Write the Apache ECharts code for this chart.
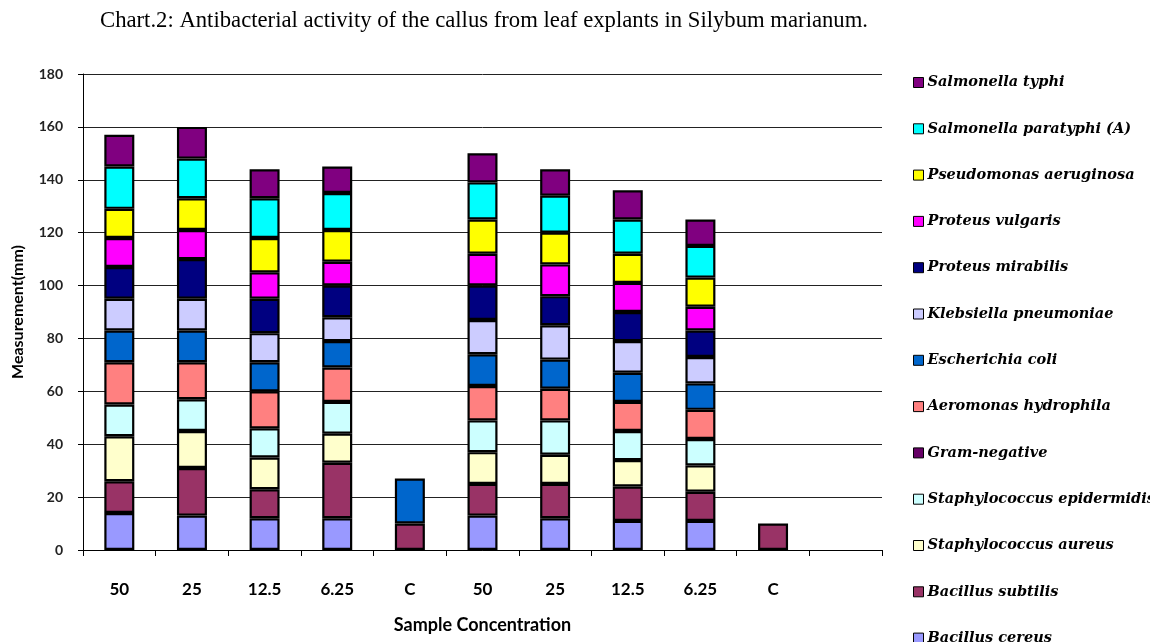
<!DOCTYPE html>
<html>
<head>
<meta charset="utf-8">
<script src="https://cdn.jsdelivr.net/npm/echarts@6/dist/echarts.min.js"></script>
<style>
  html, body { margin: 0; padding: 0; background: #fff; overflow: hidden; }
  #chart { width: 1150px; height: 642px; }
</style>
</head>
<body>
<div id="chart"></div>
<script>
// Sample concentrations (two callus sets plus controls; last slot left empty)
const categories = ['50', '25', '12.5', '6.25', 'C', '50', '25', '12.5', '6.25', 'C', ''];
const yTicks = { min: 0, max: 180, interval: 20 };

// Inhibition zones (mm) per organism, stacked bottom to top
const bacillusCereus       = [14, 13, 12, 12, null, 13, 12, 11, 11, null, null];
const bacillusSubtilis     = [12, 18, 11, 21, 10,   12, 13, 13, 11, 10,   null];
const staphAureus          = [17, 14, 12, 11, null, 12, 11, 10, 10, null, null];
const staphEpidermidis     = [12, 12, 11, 12, null, 12, 13, 11, 10, null, null];
const gramNegative         = [null, null, null, null, null, null, null, null, null, null, null];
const aeromonasHydrophila  = [16, 14, 14, 13, null, 13, 12, 11, 11, null, null];
const escherichiaColi      = [12, 12, 11, 10, 17,   12, 11, 11, 10, null, null];
const klebsiellaPneumoniae = [12, 12, 11, 9,  null, 13, 13, 12, 10, null, null];
const proteusMirabilis     = [12, 15, 13, 12, null, 13, 11, 11, 10, null, null];
const proteusVulgaris      = [11, 11, 10, 9,  null, 12, 12, 11, 9,  null, null];
const pseudomonas          = [11, 12, 13, 12, null, 13, 12, 11, 11, null, null];
const salmonellaParatyphi  = [16, 15, 15, 14, null, 14, 14, 13, 12, null, null];
const salmonellaTyphi      = [12, 12, 11, 10, null, 11, 10, 11, 10, null, null];

const seriesDefs = [
  { name: 'Bacillus cereus',            data: bacillusCereus,       color: '#9999FF' },
  { name: 'Bacillus subtilis',          data: bacillusSubtilis,     color: '#993366' },
  { name: 'Staphylococcus aureus',      data: staphAureus,          color: '#FFFFCC' },
  { name: 'Staphylococcus epidermidis', data: staphEpidermidis,     color: '#CCFFFF' },
  { name: 'Gram-negative',              data: gramNegative,         color: '#660066' },
  { name: 'Aeromonas hydrophila',       data: aeromonasHydrophila,  color: '#FF8080' },
  { name: 'Escherichia coli',           data: escherichiaColi,      color: '#0066CC' },
  { name: 'Klebsiella pneumoniae',      data: klebsiellaPneumoniae, color: '#CCCCFF' },
  { name: 'Proteus mirabilis',          data: proteusMirabilis,     color: '#000080' },
  { name: 'Proteus vulgaris',           data: proteusVulgaris,      color: '#FF00FF' },
  { name: 'Pseudomonas aeruginosa',     data: pseudomonas,          color: '#FFFF00' },
  { name: 'Salmonella paratyphi (A)',   data: salmonellaParatyphi,  color: '#00FFFF' },
  { name: 'Salmonella typhi',           data: salmonellaTyphi,      color: '#800080' }
];

const axisFont = 'Lato, "Open Sans", sans-serif';

const chart = echarts.init(document.getElementById('chart'), null, { renderer: 'canvas', width: 1150, height: 642 });
chart.setOption({
  animation: false,
  backgroundColor: '#fff',
  title: {
    text: 'Chart.2: Antibacterial activity of the callus from leaf explants in Silybum marianum.',
    left: 95,
    top: 5,
    textStyle: { fontFamily: '"Liberation Serif", serif', fontSize: 22.7, fontWeight: 'normal', color: '#000' }
  },
  legend: {
    orient: 'vertical',
    left: 908,
    top: 70,
    height: 700,
    itemWidth: 10,
    itemHeight: 10,
    itemGap: 31.3,
    icon: 'rect',
    selectedMode: false,
    data: seriesDefs.map(s => s.name).reverse(),
    itemStyle: { borderColor: '#000', borderWidth: 1 },
    textStyle: {
      fontFamily: '"DejaVu Serif", serif',
      fontStyle: 'italic',
      fontWeight: 'bold',
      fontSize: 14.5,
      lineHeight: 15,
      color: '#000',
      padding: [0, 0, 0, -1]
    }
  },
  grid: { left: 83, right: 268, top: 74, bottom: 92, containLabel: false },
  xAxis: {
    type: 'category',
    data: categories,
    boundaryGap: true,
    axisLine: { show: true, lineStyle: { color: '#000', width: 1 } },
    axisTick: { show: true, length: 6, interval: 0, lineStyle: { color: '#000' } },
    axisLabel: { interval: 0, margin: 31, fontFamily: axisFont, fontWeight: 'bold', fontSize: 17, color: '#000' },
    name: 'Sample Concentration',
    nameLocation: 'middle',
    nameGap: 66,
    nameTextStyle: { fontFamily: axisFont, fontWeight: 'bold', fontSize: 18, color: '#000' }
  },
  yAxis: {
    type: 'value',
    min: yTicks.min,
    max: yTicks.max,
    interval: yTicks.interval,
    axisLine: { show: true, lineStyle: { color: '#000', width: 1 } },
    axisTick: { show: true, length: 5, lineStyle: { color: '#000' } },
    splitLine: { show: true, lineStyle: { color: '#222', width: 1 } },
    axisLabel: { margin: 20, fontFamily: axisFont, fontWeight: 'bold', fontSize: 14, color: '#222' },
    name: 'Measurement(mm)',
    nameLocation: 'middle',
    nameGap: 57,
    nameRotate: 90,
    nameTextStyle: { fontFamily: axisFont, fontWeight: 'bold', fontSize: 16, color: '#000' }
  },
  series: seriesDefs.map(s => ({
    name: s.name,
    type: 'bar',
    stack: 'zone',
    barWidth: 30,
    data: s.data,
    itemStyle: { color: s.color, borderColor: '#000', borderWidth: 2.2 },
    emphasis: { disabled: true }
  }))
});
</script>
</body>
</html>
